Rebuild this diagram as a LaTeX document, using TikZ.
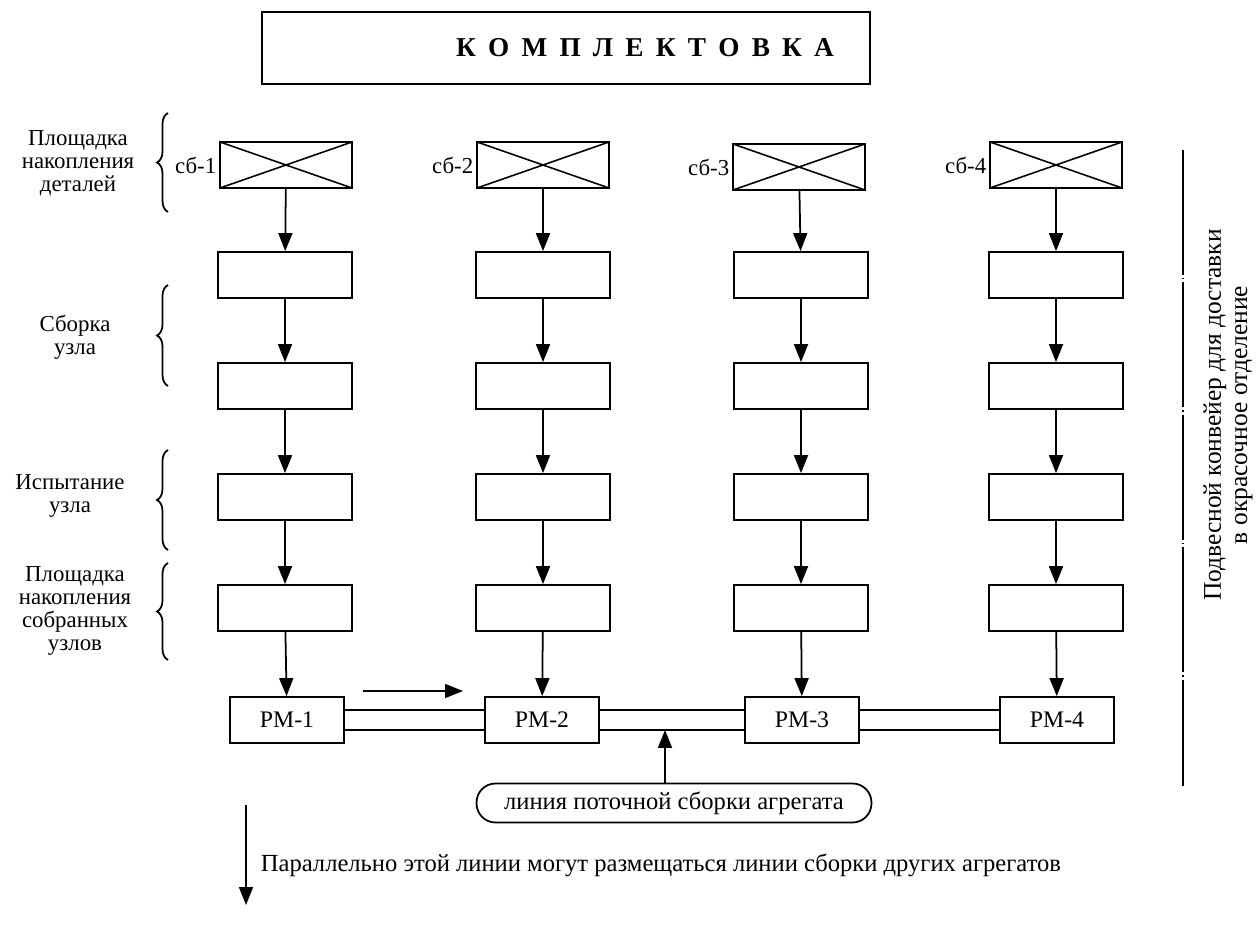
\documentclass[tikz,border=0pt]{standalone}
\usepackage{fontspec}
\setmainfont{Liberation Serif}
\usetikzlibrary{arrows.meta}
\usetikzlibrary{positioning}
\usetikzlibrary{decorations.pathreplacing}

\begin{document}
\begin{tikzpicture}[x=0.02cm,y=-0.02cm,->,>={Triangle[length=0.36cm,width=0.28cm]},line width=1pt,
    font=\fontsize{13}{13}\selectfont,
    main node/.style={rectangle,draw,minimum width=2.68cm,minimum height=0.92cm,inner sep=0pt},
    cross node/.style={main node,minimum width=2.64cm,path picture={\draw[-,line width=0.9pt] (path picture bounding box.north west) -- (path picture bounding box.south east) (path picture bounding box.south west) -- (path picture bounding box.north east);}},
    rm node/.style={rectangle,draw,minimum width=2.28cm,minimum height=0.92cm,inner sep=0pt,font=\fontsize{13.5}{14}\selectfont},
    side node/.style={align=center,inner sep=0pt},
    brace line/.style={-,decorate,decoration={brace,amplitude=0.22cm}}]

   \useasboundingbox (0,0) rectangle (1257,928);

   % title
   \node[rectangle,draw,minimum width=12.16cm,minimum height=1.44cm] (kompl) at (566,48) {};
   \node[inner sep=0pt,font=\fontsize{15.5}{16}\selectfont\bfseries] (kompltext) at (645,48) {\spaceskip=0.45em\relax К О М П Л Е К Т О В К А};

   % parts storage
   \node[cross node] (s1) at (286,165) {};
   \node[cross node] (s2) at (543,165) {};
   \node[cross node] (s3) at (799,167) {};
   \node[cross node] (s4) at (1056,165) {};
   \node[left=0.04cm of s1,inner sep=0pt] (l1) {сб-1};
   \node[left=0.04cm of s2,inner sep=0pt] (l2) {сб-2};
   \node[left=0.04cm of s3,inner sep=0pt] (l3) {сб-3};
   \node[left=0.04cm of s4,inner sep=0pt] (l4) {сб-4};

   % assembly and test
   \node[main node] (a1) at (285,275) {};
   \node[main node] (a2) at (543,275) {};
   \node[main node] (a3) at (801,275) {};
   \node[main node] (a4) at (1056,275) {};
   \node[main node] (b1) at (285,386) {};
   \node[main node] (b2) at (543,386) {};
   \node[main node] (b3) at (801,386) {};
   \node[main node] (b4) at (1056,386) {};
   \node[main node] (c1) at (285,497) {};
   \node[main node] (c2) at (543,497) {};
   \node[main node] (c3) at (801,497) {};
   \node[main node] (c4) at (1056,497) {};
   \node[main node] (d1) at (285,608) {};
   \node[main node] (d2) at (543,608) {};
   \node[main node] (d3) at (801,608) {};
   \node[main node] (d4) at (1056,608) {};

   % work places
   \node[rm node] (rm1) at (287,720) {РМ-1};
   \node[rm node] (rm2) at (542,720) {РМ-2};
   \node[rm node] (rm3) at (802,720) {РМ-3};
   \node[rm node] (rm4) at (1057,720) {РМ-4};

   \path (s1) edge (a1);
   \path (s2) edge (a2);
   \path (s3) edge (a3);
   \path (s4) edge (a4);
   \path (a1) edge (b1);
   \path (a2) edge (b2);
   \path (a3) edge (b3);
   \path (a4) edge (b4);
   \path (b1) edge (c1);
   \path (b2) edge (c2);
   \path (b3) edge (c3);
   \path (b4) edge (c4);
   \path (c1) edge (d1);
   \path (c2) edge (d2);
   \path (c3) edge (d3);
   \path (c4) edge (d4);
   \path (d1) edge (rm1);
   \path (d2) edge (rm2);
   \path (d3) edge (rm3);
   \path (d4) edge (rm4);

   % line rails
   \path[-] ([yshift=0.2cm]rm1.east) edge ([yshift=0.2cm]rm2.west);
   \path[-] ([yshift=-0.2cm]rm1.east) edge ([yshift=-0.2cm]rm2.west);
   \path[-] ([yshift=0.2cm]rm2.east) edge ([yshift=0.2cm]rm3.west);
   \path[-] ([yshift=-0.2cm]rm2.east) edge ([yshift=-0.2cm]rm3.west);
   \path[-] ([yshift=0.2cm]rm3.east) edge ([yshift=0.2cm]rm4.west);
   \path[-] ([yshift=-0.2cm]rm3.east) edge ([yshift=-0.2cm]rm4.west);

   \coordinate (mv1) at (363,691);
   \coordinate (mv2) at (463,691);
   \path (mv1) edge (mv2);

   \node[rectangle,rounded corners=0.38cm,draw,minimum width=7.9cm,minimum height=0.78cm,font=\fontsize{14}{14}\selectfont] (line) at (674,803) {линия поточной сборки агрегата};
   \coordinate (rail) at (665,730);
   \path (line.north -| rail) edge (rail);

   % other lines
   \coordinate (p1) at (246,805);
   \coordinate (p2) at (246,905);
   \path (p1) edge (p2);
   \node[anchor=west,inner sep=0pt,font=\fontsize{14}{14}\selectfont] (note) at (260,865) {Параллельно этой линии могут размещаться линии сборки других агрегатов};

   % left labels
   \node[side node] (t1) at (78,163) {Площадка\\накопления\\деталей};
   \node[side node] (t2) at (75,337) {Сборка\\узла};
   \node[side node] (t3) at (70,496) {Испытание\\узла};
   \node[side node] (t4) at (75,611) {Площадка\\накопления\\собранных\\узлов};
   \draw[brace line] (168,212) -- (168,113);
   \draw[brace line] (168,386) -- (168,285);
   \draw[brace line] (168,550) -- (168,450);
   \draw[brace line] (168,660) -- (168,563);

   % conveyor
   \coordinate (cv1) at (1183,150);
   \coordinate (cv2) at (1183,786);
   \draw[-,dash pattern=on 2.5cm off 0.06cm on 0.03cm off 0.06cm] (cv1) -- (cv2);
   \node[side node,rotate=90,font=\fontsize{14.5}{15}\selectfont] (conv) at (1228,415) {Подвесной конвейер для доставки\\в окрасочное отделение};

  \end{tikzpicture}
\end{document}
